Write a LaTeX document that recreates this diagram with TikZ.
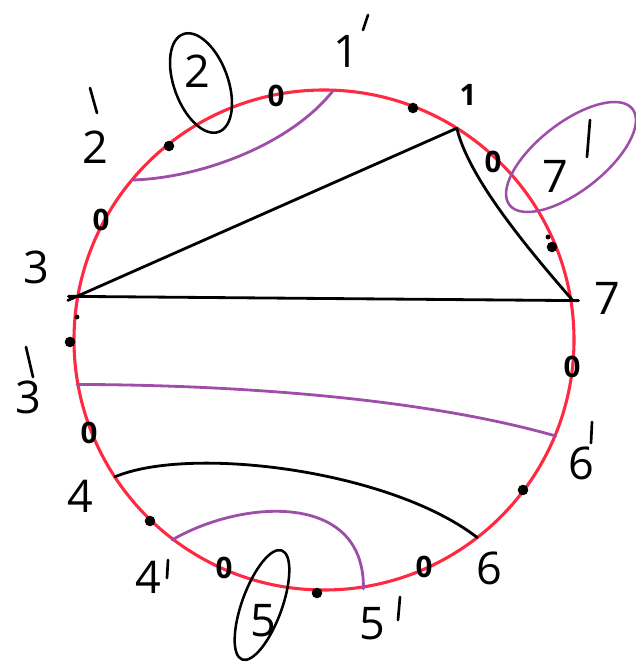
\documentclass[tikz,border=0pt]{standalone}
\usepackage{fontspec}
\setmainfont{Open Sans}
\definecolor{ringred}{RGB}{255,42,66}
\definecolor{plum}{RGB}{158,78,168}
\tikzset{
  chord/.style={black, line width=2pt},
  link/.style={plum, line width=2pt},
  loop/.style={line width=1.8pt},
  lbl/.style={font=\fontsize{32}{34}\selectfont, inner sep=0pt},
  zero/.style={font=\fontsize{21}{22}\selectfont\bfseries, inner sep=0pt},
  dotmark/.style={circle, fill=black, inner sep=0pt, minimum size=7.5pt},
  speck/.style={circle, fill=black, inner sep=0pt, minimum size=3.5pt},
  prime/.style={black, line width=1.9pt}
}
\begin{document}
\begin{tikzpicture}[x=0.025cm, y=0.025cm, line cap=round, line join=round]
  \useasboundingbox (-324,-329) rectangle (312,340);
  % the circle
  \coordinate (O) at (0,0);
  \draw[ringred, line width=2.2pt] (O) circle[radius=250];
  % points on the circle
  \coordinate (p1) at (57.9:250);
  \coordinate (p3) at (170:251);
  \coordinate (p7) at (9:252);
  \coordinate (p4) at (213.2:250);
  \coordinate (p6) at (307.8:250);
  \coordinate (q1) at (88:249);
  \coordinate (q2) at (140:249);
  \coordinate (q3) at (190.2:251);
  \coordinate (q6) at (337.5:251);
  \coordinate (q4) at (232.8:251);
  \coordinate (q5) at (279:252);
  % black chords
  \draw[chord, shorten <=-7pt] (p3) -- (p1);
  \draw[chord] (p1) .. controls (144,165) and (196,100) .. (p7);
  \draw[chord, shorten <=-6pt, shorten >=-4pt] (p3) -- (p7);
  \draw[chord] (p4) .. controls (-134,-105) and (66,-130) .. (p6);
  % purple links
  \draw[link] (q2) .. controls (-124,162) and (-34,195) .. (q1);
  \draw[link] (q3) .. controls (-74,-45) and (106,-60) .. (q6);
  \draw[link] (q4) .. controls (-84,-160) and (41,-150) .. (q5);
  % dots
  \foreach \p [count=\i] in {(-155,194), (89,232), (228,93), (-254,-2), (199,-150), (-174,-181), (-7,-253)}
    \node[dotmark] (dot\i) at \p {};
  \node[speck] (speck1) at (-247,23) {};
  \node[speck] (speck2) at (224,103) {};
  % zeros
  \foreach \p [count=\i] in {(-48,244), (-223,120), (169,178), (248,-27), (-235,-93), (-100,-228), (100,-227)}
    \node[zero] (zero\i) at \p {0};
  % labels
  \node[zero] (n1) at (144,245) {1};
  \node[lbl] (n1p) at (22,289) {1};
  \draw[prime] (44,325) -- (39,310);
  \node[lbl] (n2) at (-127,269) {2};
  \draw[loop, rotate around={110:(-123,257)}] (-123,257) ellipse[x radius=52, y radius=27];
  \node[lbl] (n2p) at (-229,193) {2};
  \draw[prime] (-234,252) -- (-227,227);
  \node[lbl] (n3) at (-288,73) {3};
  \node[lbl] (n3p) at (-296,-57) {3};
  \draw[prime] (-298,-7) -- (-291,-37);
  \node[lbl] (n4) at (-244,-156) {4};
  \node[lbl] (n4p) at (-176,-237) {4};
  \draw[prime] (-156,-220) -- (-157,-238);
  \node[lbl] (n5) at (-61,-281) {5};
  \draw[loop, rotate around={70:(-62,-265)}] (-62,-265) ellipse[x radius=58, y radius=20];
  \node[lbl] (n5p) at (48,-284) {5};
  \draw[prime] (76,-257) -- (74,-280);
  \node[lbl] (n6) at (165,-228) {6};
  \node[lbl] (n6p) at (257,-123) {6};
  \draw[prime] (268,-82) -- (267,-103);
  \node[lbl] (n7) at (283,42) {7};
  \node[lbl] (n7p) at (231,164) {7};
  \draw[prime] (266,220) -- (263,183);
  \draw[loop, plum, rotate around={38:(247,183)}] (247,183) ellipse[x radius=78, y radius=34];
\end{tikzpicture}
\end{document}
